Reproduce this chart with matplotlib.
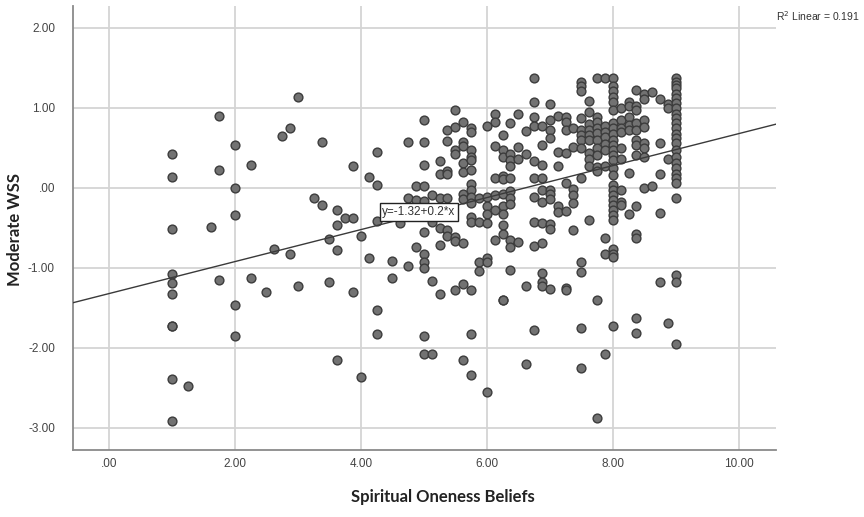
import numpy as np
import matplotlib
matplotlib.use("Agg")
import matplotlib.pyplot as plt

# Scatter values, grouped by x (Spiritual Oneness Beliefs)
points_by_x = {
    1.0: [0.43, 0.14, -0.51, -1.07, -1.19, -1.33, -1.72, -1.72, -2.39, -2.91],
    1.25: [-2.47],
    1.625: [-0.49],
    1.75: [0.90, 0.22, -1.15],
    2.0: [0.54, 0.0, -0.34, -1.46, -1.85],
    2.25: [0.29, -1.12],
    2.5: [-1.30],
    2.625: [-0.76],
    2.75: [0.65],
    2.875: [0.75, -0.82],
    3.0: [1.14, -1.23],
    3.25: [-0.13],
    3.375: [0.58, -0.21],
    3.5: [-0.64, -1.17],
    3.625: [-0.27, -0.46, -0.78, -2.15],
    3.75: [-0.37],
    3.875: [0.27, -0.37, -1.30],
    4.0: [-0.60, -2.36],
    4.125: [0.14, -0.87],
    4.25: [0.45, 0.04, -0.41, -1.53, -1.82],
    4.5: [-0.91, -1.12],
    4.625: [-0.44],
    4.75: [0.57, -0.13, -0.98],
    4.875: [0.02, -0.15, -0.74],
    5.0: [0.85, 0.57, 0.29, 0.03, -0.16, -0.32, -0.55, -0.83, -0.93, -1.00, -1.85, -2.08],
    5.125: [-0.09, -0.42, -1.16, -2.07],
    5.25: [0.34, 0.18, -0.12, -0.50, -0.71, -1.32],
    5.375: [0.73, 0.59, 0.21, 0.18, -0.12, -0.53, -0.60],
    5.5: [0.98, 0.76, 0.48, 0.43, -0.61, -0.66, -1.28],
    5.625: [0.82, 0.58, 0.52, 0.31, 0.20, -0.07, -0.14, -0.69, -1.20, -2.15],
    5.75: [0.75, 0.70, 0.48, 0.39, 0.35, 0.23, 0.05, -0.03, -0.11, -0.19, -0.36, -0.42,
           -1.27, -1.83, -2.34],
    5.875: [-0.12, -0.42, -0.93, -1.04],
    6.0: [0.78, -0.11, -0.23, -0.33, -0.44, -0.87, -0.93, -2.55],
    6.125: [0.93, 0.83, 0.52, 0.12, -0.09, -0.28, -0.65],
    6.25: [0.66, 0.48, 0.39, 0.15, 0.11, -0.08, -0.23, -0.32, -0.46, -0.58, -1.40, -1.40],
    6.375: [0.81, 0.43, 0.35, 0.27, 0.12, -0.04, -0.12, -0.20, -0.65, -0.74, -1.03],
    6.5: [0.93, 0.51, 0.36, -0.67],
    6.625: [0.71, 0.43, -1.23, -2.20],
    6.75: [1.37, 1.07, 0.89, 0.77, 0.34, 0.13, -0.11, -0.42, -0.73, -1.78],
    6.875: [0.78, 0.54, 0.29, 0.12, -0.02, -0.17, -0.44, -0.69, -1.06, -1.18, -1.23],
    7.0: [1.05, 0.85, 0.73, 0.62, -0.02, -0.08, -0.14, -0.45, -0.51, -1.26],
    7.125: [0.90, 0.45, 0.28, -0.23, -0.30],
    7.25: [0.89, 0.83, 0.73, 0.44, 0.06, -0.29, -1.25, -1.27],
    7.375: [0.75, 0.51, -0.01, -0.09, -0.19, -0.52],
    7.5: [1.33, 1.27, 1.21, 0.87, 0.73, 0.66, 0.60, 0.50, 0.13, -0.92, -1.05, -1.75, -2.25],
    7.625: [1.09, 0.95, 0.80, 0.72, 0.66, 0.60, 0.44, 0.36, 0.27, -0.40],
    7.75: [1.37, 0.89, 0.83, 0.75, 0.69, 0.60, 0.50, 0.41, 0.26, 0.21, -1.40, -2.87],
    7.875: [1.37, 0.77, 0.70, 0.64, 0.55, 0.47, 0.28, -0.62, -0.82, -2.07],
    8.0: [1.37, 1.27, 1.21, 1.14, 1.08, 0.98, 0.81, 0.75, 0.68, 0.60, 0.54, 0.47, 0.41,
          0.35, 0.25, 0.16, 0.04, -0.03, -0.09, -0.15, -0.21, -0.28, -0.34, -0.40,
          -0.76, -0.82, -0.86, -1.72],
    8.125: [1.00, 0.85, 0.75, 0.70, 0.50, 0.36, -0.02, -0.17, -0.21],
    8.25: [1.07, 1.02, 0.89, 0.79, 0.72, 0.19, -0.33],
    8.375: [1.22, 1.03, 0.98, 0.81, 0.73, 0.60, 0.54, 0.41, -0.23, -0.57, -0.62, -1.63, -1.81],
    8.5: [1.18, 1.11, 0.85, 0.76, 0.56, 0.50, 0.39, 0.00],
    8.625: [1.20, 0.02],
    8.75: [1.11, 0.56, 0.17, -0.31, -1.18],
    8.875: [1.05, 1.00, 0.36, -1.69],
    9.0: [1.37, 1.33, 1.29, 1.25, 1.18, 1.12, 1.06, 1.00, 0.93, 0.87, 0.81, 0.75, 0.68,
          0.62, 0.56, 0.47, 0.39, 0.31, 0.25, 0.18, 0.12, 0.06, -0.12, -1.09, -1.18, -1.95],
}

# fit line as printed on the chart
intercept = -1.32
slope = 0.2
r2 = 0.191

x_ticks = [0, 2, 4, 6, 8, 10]
x_tick_labels = [".00", "2.00", "4.00", "6.00", "8.00", "10.00"]
y_ticks = [2, 1, 0, -1, -2, -3]
y_tick_labels = ["2.00", "1.00", ".00", "-1.00", "-2.00", "-3.00"]

xs = []
ys = []
for xv, yvals in points_by_x.items():
    for yv in yvals:
        xs.append(xv)
        ys.append(yv)

fig = plt.figure(figsize=(8.64, 5.17), dpi=100)
ax = fig.add_axes([73 / 864, 1 - 450 / 517, (776 - 73) / 864, (450 - 6) / 517])

xmin, xmax = -0.57, 10.59
ax.set_xlim(xmin, xmax)
ax.set_ylim(-3.275, 2.275)

ax.grid(True, color="#d4d4d4", linewidth=1.3)
ax.set_axisbelow(True)

ax.scatter(xs, ys, s=40, facecolor="#727272", edgecolor="#3c3c3c", linewidth=1.0, zorder=3)

line_x = np.array([xmin, xmax])
ax.plot(line_x, intercept + slope * line_x, color="#3a3a3a", linewidth=1.0, zorder=4)

ax.text(4.92, -0.30, "y=-1.32+0.2*x", ha="center", va="center", fontsize=8.5,
        family="Liberation Sans", color="#333333", zorder=5,
        bbox=dict(boxstyle="square,pad=0.22", facecolor="white", edgecolor="#222222", linewidth=1.0))

ax.set_xticks(x_ticks)
ax.set_xticklabels(x_tick_labels)
ax.set_yticks(y_ticks)
ax.set_yticklabels(y_tick_labels)
ax.tick_params(length=0, labelsize=8.5, colors="#444444")
ax.tick_params(axis="y", pad=13)
ax.tick_params(axis="x", pad=6)
for lbl in ax.get_xticklabels() + ax.get_yticklabels():
    lbl.set_family("Liberation Sans")

for side in ["top", "right"]:
    ax.spines[side].set_visible(False)
for side in ["left", "bottom"]:
    ax.spines[side].set_color("#8a8a8a")
    ax.spines[side].set_linewidth(1.3)

fig.text(15 / 864, 1 - 230 / 517, "Moderate WSS", rotation=90, ha="center", va="center",
         fontsize=12, fontweight="bold", family="Lato", color="#222222")
fig.text(443 / 864, 1 - 497 / 517, "Spiritual Oneness Beliefs", ha="center", va="center",
         fontsize=12, fontweight="bold", family="Lato", color="#222222")
fig.text(776 / 864, 1 - 16 / 517, "R$^2$ Linear = %.3f" % r2, ha="left", va="center",
         fontsize=7.5, family="Liberation Sans", color="#333333")

fig.savefig("out.png", dpi=100)
